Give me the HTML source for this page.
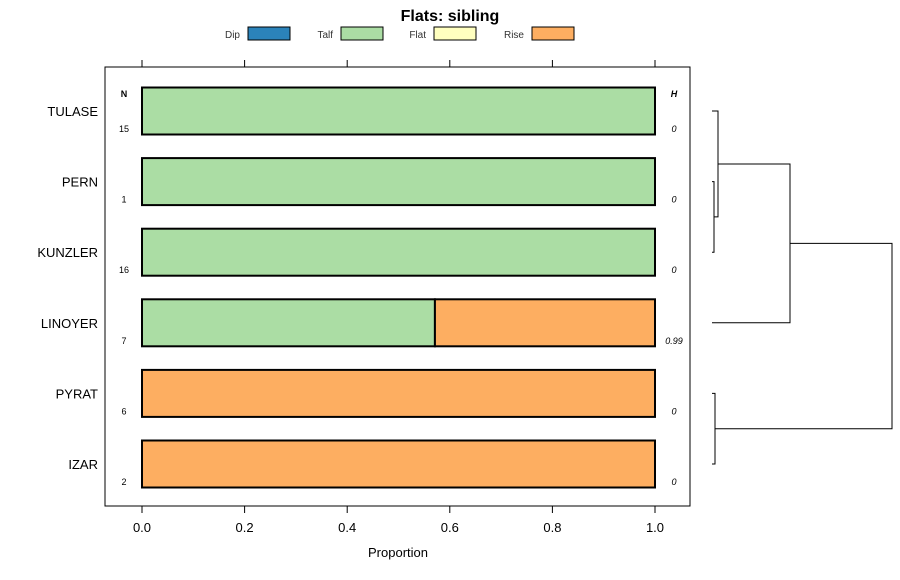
<!DOCTYPE html>
<html><head><meta charset="utf-8"><style>
body{margin:0;background:#fff}
svg{display:block;font-family:"Liberation Sans",sans-serif}
</style></head><body>
<svg id="c" width="900" height="580">
<text x="450" y="21" text-anchor="middle" font-size="16" font-weight="bold">Flats: sibling</text>
<rect x="105" y="67" width="585" height="439" fill="none" stroke="#000" stroke-width="1"/>
<text x="124" y="97" text-anchor="middle" font-size="9" font-weight="bold">N</text>
<text x="674" y="97" text-anchor="middle" font-size="9" font-weight="bold" font-style="italic">H</text>
<text x="398" y="557" text-anchor="middle" font-size="13">Proportion</text>
<g id="legend"></g><g id="axes"></g><g id="bars"></g><g id="dendro"></g>
</svg>
<script>
const categories=["TULASE","PERN","KUNZLER","LINOYER","PYRAT","IZAR"];
const counts=[15,1,16,7,6,2];
const hValues=["0","0","0","0.99","0","0"];
const seriesNames=["Dip","Talf","Flat","Rise"];
const seriesColors=["#2b83ba","#abdda4","#ffffbf","#fdae61"];
const dip=[0,0,0,0,0,0];
const talf=[1,1,1,0.571,0,0];
const flat=[0,0,0,0,0,0];
const rise=[0,0,0,0.429,1,1];
const xTicks=[0,0.2,0.4,0.6,0.8,1.0];
const xTickLabels=["0.0","0.2","0.4","0.6","0.8","1.0"];
// dendrogram merges: [a,b,height]; negative = leaf index (1-based), positive = merge index
const merges=[[-2,-3,0.02],[-1,1,0.06],[-5,-6,0.03],[2,-4,0.78],[4,3,1.8]];

const NS="http://www.w3.org/2000/svg";
function mk(tag,attrs,parent,txt){const e=document.createElementNS(NS,tag);for(const k in attrs)e.setAttribute(k,attrs[k]);if(txt!==undefined)e.textContent=txt;parent.appendChild(e);return e;}
const xs=v=>142+v*513;
const yc=i=>111+i*70.6;
const bh=47;
const axes=document.getElementById('axes');
xTicks.forEach((t,i)=>{
  let l=mk('line',{x1:xs(t),x2:xs(t),y1:506,y2:513,stroke:'#000'},axes);
  
  
  let l2=mk('line',{x1:xs(t),x2:xs(t),y1:60,y2:67,stroke:'#000'},axes);
  
  
  let tx=mk('text',{x:xs(t),y:532,'text-anchor':'middle','font-size':13},axes,xTickLabels[i]);
  
  
});
const lg=document.getElementById('legend');
const lgX=[248,341,434,532];
seriesNames.forEach((n,i)=>{
  let r=mk('rect',{x:lgX[i],y:27,width:42,height:13,fill:seriesColors[i],stroke:'#000','stroke-width':1},lg);
  
  
  let t=mk('text',{x:lgX[i]-8,y:38,'text-anchor':'end','font-size':10,fill:'#333'},lg,n);
  
  
});
const bars=document.getElementById('bars');
const series=[dip,talf,flat,rise];
categories.forEach((c,i)=>{
  const y=yc(i);
  let lab=mk('text',{x:98,y:y+5,'text-anchor':'end','font-size':13},bars,c);
  
  
  let nt=mk('text',{x:124,y:y+21,'text-anchor':'middle','font-size':9},bars,counts[i]);
  
  
  let ht=mk('text',{x:674,y:y+21,'text-anchor':'middle','font-size':9,'font-style':'italic'},bars,hValues[i]);
  
  
  let cum=0;
  series.forEach((s,k)=>{
    if(s[i]>0){
      let r=mk('rect',{x:xs(cum),y:y-bh/2,width:xs(cum+s[i])-xs(cum),height:bh,fill:seriesColors[k],stroke:'#000','stroke-width':2},bars);
      
      
    }
    cum+=s[i];
  });
});
const dg=document.getElementById('dendro');
const hx=h=>712+h*100;
const nodes=[];
function pos(id){return id<0?{x:712,y:yc(-id-1)}:nodes[id-1];}
merges.forEach(m=>{
  const a=pos(m[0]),b=pos(m[1]);const x=hx(m[2]);
  const p=mk('path',{d:`M${a.x},${a.y}H${x}V${b.y}H${b.x}`,fill:'none',stroke:'#000','stroke-width':1},dg);
  
  
  nodes.push({x:x,y:(a.y+b.y)/2});
});
</script>
</body></html>
